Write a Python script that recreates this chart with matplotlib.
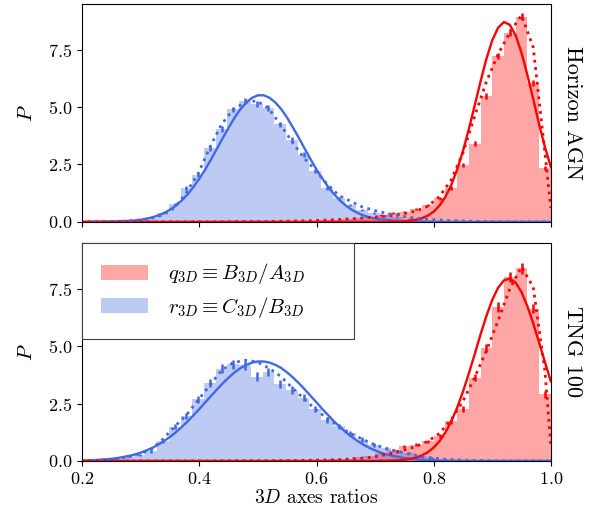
import numpy as np
import matplotlib
matplotlib.use("Agg")
import matplotlib.pyplot as plt

plt.rcParams['font.family'] = 'serif'
plt.rcParams['font.serif'] = ['cmr10']
plt.rcParams['mathtext.fontset'] = 'cm'
plt.rcParams['axes.formatter.use_mathtext'] = True

# bin layout: red bins end at 1.0, blue bins are offset
red_left = np.round(np.arange(0.20, 0.99, 0.02), 3)   # 40 bins
blue_left = np.round(np.arange(0.208, 0.99, 0.02), 3)  # 40 bins
bw = 0.02
grid = np.linspace(0.2, 1.0, 81)  # smooth model curves
red_mid = np.append(red_left + bw / 2, 1.0)
blue_mid = blue_left + bw / 2

# ---- Horizon AGN ----
hz_q_hist = [0, 0, 0, 0, 0, 0, 0, 0, 0, 0, 0, 0, 0.01, 0.01, 0.01, 0.01, 0.015, 0.02, 0.03, 0.04,
             0.06, 0.09, 0.12, 0.17, 0.22, 0.30, 0.38, 0.45, 0.55, 0.74, 1.03, 1.47, 2.46, 3.41, 5.47,
             7.22, 8.24, 8.94, 6.06, 2.34]
hz_q_err = [0] * 25 + [0.03, 0.03, 0.04, 0.04, 0.05, 0.06, 0.07, 0.09, 0.10, 0.12, 0.14, 0.15, 0.16, 0.13, 0.08]
hz_r_hist = [0.005, 0.01, 0.02, 0.04, 0.08, 0.18, 0.40, 0.77, 1.47, 2.05, 3.20, 4.05, 4.90, 5.25, 5.14,
             4.96, 4.24, 3.58, 2.93, 2.20, 1.47, 1.03, 0.74, 0.52, 0.38, 0.28, 0.20, 0.14, 0.09, 0.06,
             0.04, 0.03, 0.02, 0.01, 0.01, 0, 0, 0, 0, 0]
hz_r_err = [0, 0, 0.01, 0.01, 0.02, 0.03, 0.04, 0.06, 0.07, 0.09, 0.10, 0.12, 0.12, 0.13, 0.13,
            0.13, 0.12, 0.11, 0.10, 0.09, 0.07, 0.06, 0.05, 0.04, 0.04, 0.03, 0.03, 0.02, 0.02, 0.01,
            0.01, 0.01, 0, 0, 0, 0, 0, 0, 0, 0]
hz_q_fit = [0] * 52 + [0.00, 0.01, 0.01, 0.02, 0.05, 0.09, 0.16, 0.27, 0.44, 0.71, 1.09, 1.60, 2.27, 3.08,
                       4.03, 5.06, 6.11, 7.09, 7.90, 8.45, 8.70, 8.58, 8.12, 7.36, 6.40, 5.35, 4.25, 3.25, 2.40]
hz_r_fit = [0, 0, 0, 0, 0.01, 0.01, 0.02, 0.03, 0.04, 0.06,
            0.09, 0.14, 0.20, 0.28, 0.39, 0.53, 0.71, 0.93, 1.20, 1.52,
            1.88, 2.28, 2.72, 3.18, 3.65, 4.10, 4.53, 4.90, 5.19, 5.40,
            5.51, 5.51, 5.40, 5.19, 4.90, 4.53, 4.10, 3.65, 3.18, 2.72,
            2.28, 1.88, 1.52, 1.20, 0.93, 0.71, 0.53, 0.39, 0.28, 0.20,
            0.15, 0.11, 0.08, 0.06, 0.04, 0.03, 0.02, 0.01, 0.01, 0.0] + [0] * 21
hz_q_kde = [0] * 12 + [0.005, 0.01, 0.01, 0.01, 0.02, 0.03, 0.04, 0.05, 0.07, 0.09, 0.12, 0.15, 0.19,
                       0.22, 0.28, 0.36, 0.47, 0.68, 1.10, 1.83, 3.00, 4.60, 6.10, 7.30, 8.24, 9.00,
                       7.60, 3.00, 0.60]
hz_r_kde = [0.005, 0.01, 0.02, 0.04, 0.08, 0.15, 0.30, 0.62, 1.28, 2.10, 3.25, 4.25, 4.90, 5.20, 5.27,
            4.95, 4.25, 3.50, 2.80, 2.25, 1.65, 1.15, 0.90, 0.65, 0.50, 0.38, 0.28, 0.20, 0.14, 0.10,
            0.07, 0.05, 0.03, 0.02, 0.01, 0.005, 0, 0, 0, 0]

# ---- TNG 100 ----
tng_q_hist = [0, 0, 0, 0, 0, 0, 0, 0, 0, 0, 0, 0, 0.005, 0.01, 0.01, 0.01, 0.015, 0.02, 0.03, 0.04,
              0.05, 0.07, 0.10, 0.15, 0.23, 0.34, 0.48, 0.63, 0.70, 0.85, 1.07, 1.73, 2.24, 3.63, 4.91,
              6.70, 8.01, 8.38, 6.62, 2.90]
tng_q_err = [0] * 25 + [0.05, 0.06, 0.07, 0.07, 0.08, 0.09, 0.11, 0.13, 0.15, 0.17, 0.20, 0.22, 0.22, 0.20, 0.14]
tng_r_hist = [0.01, 0.03, 0.07, 0.15, 0.27, 0.42, 0.87, 1.48, 1.97, 2.69, 3.40, 4.02, 4.20, 4.17, 3.67,
              3.88, 3.35, 3.08, 2.75, 2.25, 1.80, 1.50, 1.20, 0.92, 0.70, 0.55, 0.42, 0.33, 0.20, 0.12,
              0.06, 0.03, 0.02, 0.01, 0.01, 0, 0, 0, 0, 0]
tng_r_err = [0.01, 0.02, 0.03, 0.04, 0.05, 0.06, 0.09, 0.11, 0.13, 0.15, 0.17, 0.18, 0.19, 0.19, 0.18,
             0.18, 0.17, 0.17, 0.16, 0.14, 0.13, 0.12, 0.11, 0.10, 0.08, 0.07, 0.06, 0.05, 0.04, 0.03,
             0.02, 0.02, 0.01, 0.01, 0.01, 0, 0, 0, 0, 0]
tng_q_fit = [0] * 50 + [0.00, 0.01, 0.01, 0.02, 0.03, 0.05, 0.09, 0.15, 0.24, 0.38, 0.58, 0.86, 1.24, 1.72,
                        2.31, 3.01, 3.80, 4.64, 5.50, 6.31, 7.01, 7.54, 7.86, 7.94, 7.76, 7.35, 6.74, 5.99,
                        5.16, 4.30, 3.47]
tng_r_fit = [0.018, 0.025, 0.036, 0.05, 0.07, 0.09, 0.125, 0.17, 0.22, 0.28,
             0.36, 0.46, 0.57, 0.71, 0.87, 1.05, 1.25, 1.48, 1.72, 1.99,
             2.26, 2.55, 2.83, 3.11, 3.38, 3.63, 3.85, 4.04, 4.18, 4.28,
             4.33, 4.33, 4.28, 4.18, 4.04, 3.85, 3.63, 3.38, 3.11, 2.83,
             2.55, 2.26, 1.99, 1.72, 1.48, 1.25, 1.05, 0.87, 0.71, 0.57,
             0.46, 0.36, 0.28, 0.22, 0.17, 0.125, 0.09, 0.07, 0.05, 0.036,
             0.025, 0.018, 0.013, 0.009, 0.006, 0.004] + [0] * 15
tng_q_kde = [0] * 12 + [0.005, 0.01, 0.01, 0.01, 0.01, 0.015, 0.02, 0.03, 0.04, 0.05, 0.07, 0.10, 0.15,
                        0.23, 0.34, 0.48, 0.63, 0.85, 1.20, 1.80, 2.60, 3.63, 4.80, 6.10, 7.50, 8.45,
                        7.57, 3.90, 0.70]
tng_r_kde = [0.02, 0.04, 0.09, 0.17, 0.30, 0.50, 0.95, 1.50, 2.00, 2.65, 3.30, 3.95, 4.28, 4.38, 4.32,
             4.05, 3.70, 3.20, 2.72, 2.25, 1.85, 1.50, 1.20, 0.95, 0.72, 0.55, 0.42, 0.30, 0.20, 0.13,
             0.08, 0.05, 0.03, 0.02, 0.01, 0, 0, 0, 0, 0]

sims = ["Horizon AGN", "TNG 100"]
panels = [
    (hz_q_hist, hz_q_err, hz_q_fit, hz_q_kde, hz_r_hist, hz_r_err, hz_r_fit, hz_r_kde),
    (tng_q_hist, tng_q_err, tng_q_fit, tng_q_kde, tng_r_hist, tng_r_err, tng_r_fit, tng_r_kde),
]

fig = plt.figure(figsize=(6, 5.22), dpi=100)
ax1 = fig.add_axes([0.137, 0.575, 0.781, 0.418])
ax2 = fig.add_axes([0.137, 0.117, 0.781, 0.418], sharex=ax1)

for ax, name, p in zip([ax1, ax2], sims, panels):
    q_h, q_e, q_f, q_k, r_h, r_e, r_f, r_k = p
    ax.bar(red_left, q_h, width=bw, align='edge', color='red', alpha=0.35, lw=0,
           label=r'$q_{3D} \equiv B_{3D}/A_{3D}$')
    ax.bar(blue_left, r_h, width=bw, align='edge', color='royalblue', alpha=0.35, lw=0,
           label=r'$r_{3D} \equiv C_{3D}/B_{3D}$')
    ax.errorbar(red_left + bw / 2, q_h, yerr=q_e, fmt='none', ecolor='red', elinewidth=1.8)
    ax.errorbar(blue_mid, r_h, yerr=r_e, fmt='none', ecolor='royalblue', elinewidth=1.8)
    ax.plot(grid, r_f, color='royalblue', lw=1.7)
    ax.plot(grid, q_f, color='red', lw=1.7)
    ax.plot(red_mid, q_k, color='red', lw=2, ls=':')
    ax.plot(blue_mid, r_k, color='royalblue', lw=2, ls=':')
    ax.set_xlim(0.2, 1.0)
    ax.set_ylim(0, 9.5)
    ax.set_yticks([0, 2.5, 5.0, 7.5])
    ax.set_ylabel(r'$P$', fontsize=15, labelpad=9)
    ax.tick_params(labelsize=13)
    ax.text(1.025, 0.5, name, rotation=270, transform=ax.transAxes,
            ha='left', va='center', fontsize=16)

ax1.tick_params(labelbottom=False)
ax2.set_xticks([0.2, 0.4, 0.6, 0.8, 1.0])
ax2.set_xlabel(r'$3D$ axes ratios', fontsize=14, labelpad=2)
leg = ax2.legend(loc='upper left', bbox_to_anchor=(0, 1, 0.58, 0), mode='expand',
                 fontsize=15, fancybox=False, edgecolor='0.25', framealpha=1,
                 handlelength=2.25, handleheight=0.75, labelspacing=0.4, borderpad=0.9,
                 handletextpad=0.95, borderaxespad=0)
leg.get_frame().set_linewidth(0.8)

plt.savefig("out.png")
